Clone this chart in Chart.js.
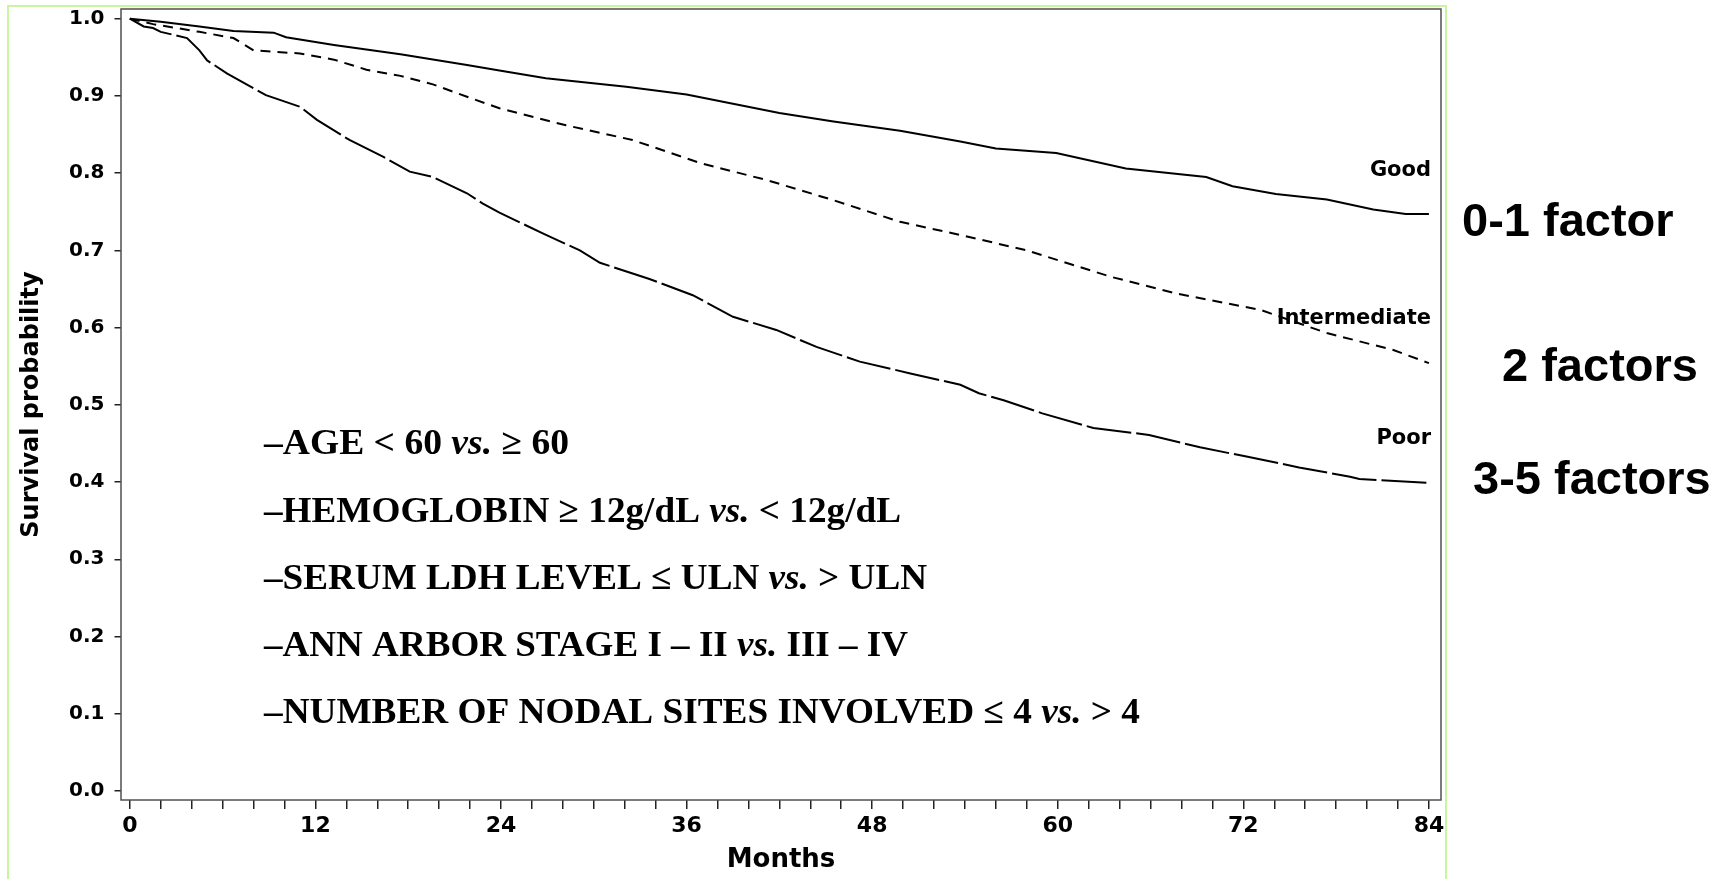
<!DOCTYPE html>
<html><head><meta charset="utf-8">
<script src="https://cdn.jsdelivr.net/npm/chart.js@4.4.1/dist/chart.umd.min.js"></script>
<style>html,body{margin:0;padding:0;background:#fff;overflow:hidden}canvas{display:block}</style>
</head><body>
<canvas id="c" width="1725" height="879"></canvas>
<script>
// ---- data ----
const goodMonths = [0, 2.0, 4.5, 6.7, 9.3, 10.1, 13.2, 17.5, 21.8, 23.9, 26.9, 32.1, 36.0, 39.0, 42.0, 45.5, 49.8, 53.7, 56.0, 59.9, 64.4, 69.6, 71.3, 74.1, 77.4, 80.4, 82.5, 84.0];
const goodSurv   = [1.000, 0.996, 0.990, 0.984, 0.982, 0.976, 0.966, 0.954, 0.940, 0.933, 0.923, 0.912, 0.902, 0.890, 0.878, 0.867, 0.855, 0.841, 0.832, 0.826, 0.806, 0.795, 0.783, 0.773, 0.766, 0.753, 0.747, 0.747];

const intermMonths = [0, 1.5, 4.5, 6.7, 8.0, 11.0, 13.2, 15.3, 17.5, 19.6, 21.8, 23.9, 28.2, 32.5, 36.9, 41.2, 45.5, 49.8, 53.7, 58.0, 63.4, 67.7, 73.1, 77.4, 81.7, 84.0];
const intermSurv   = [1.000, 0.993, 0.983, 0.975, 0.959, 0.955, 0.947, 0.934, 0.926, 0.915, 0.899, 0.884, 0.862, 0.843, 0.813, 0.791, 0.765, 0.737, 0.720, 0.700, 0.666, 0.644, 0.623, 0.593, 0.571, 0.554];

const poorMonths = [0, 0.9, 1.5, 2.0, 3.7, 4.5, 5.0, 6.3, 8.8, 11.0, 12.1, 14.2, 16.4, 18.1, 19.6, 21.8, 22.8, 23.9, 26.7, 29.1, 30.4, 33.6, 36.4, 39.0, 41.8, 44.4, 47.2, 50.4, 53.7, 54.9, 56.5, 59.0, 62.3, 65.9, 69.2, 72.2, 75.6, 78.9, 79.5, 84.0];
const poorSurv   = [1.000, 0.990, 0.988, 0.983, 0.975, 0.959, 0.946, 0.929, 0.901, 0.886, 0.869, 0.843, 0.821, 0.802, 0.795, 0.774, 0.761, 0.749, 0.722, 0.700, 0.684, 0.663, 0.642, 0.614, 0.597, 0.575, 0.556, 0.541, 0.526, 0.515, 0.506, 0.489, 0.470, 0.461, 0.445, 0.433, 0.419, 0.407, 0.404, 0.399];

const yTickValues = [0.0, 0.1, 0.2, 0.3, 0.4, 0.5, 0.6, 0.7, 0.8, 0.9, 1.0];
const xLabelMonths = [0, 12, 24, 36, 48, 60, 72, 84];
const xMinorStep = 2;
const groupLabels = ['Good', 'Intermediate', 'Poor'];
const factorLabels = ['0-1 factor', '2 factors', '3-5 factors'];
const riskFactors = [
  ['\u2013AGE < 60 ', 'vs.', ' \u2265 60'],
  ['\u2013HEMOGLOBIN \u2265 12g/dL ', 'vs.', ' < 12g/dL'],
  ['\u2013SERUM LDH LEVEL \u2264 ULN ', 'vs.', ' > ULN'],
  ['\u2013ANN ARBOR STAGE I \u2013 II ', 'vs.', ' III \u2013 IV'],
  ['\u2013NUMBER OF NODAL SITES INVOLVED \u2264 4 ', 'vs.', ' > 4']
];

const xTicks = [];
for (let m = 0; m <= 84; m += xMinorStep) xTicks.push(m);

function pts(xs, ys) { return xs.map((x, i) => ({x: x, y: ys[i]})); }

const SANS = '"DejaVu Sans"';

function drawRuns(ctx, runs, x, baseline, targetW) {
  const fonts = runs.map((r, i) => (i === 1 ? 'italic bold 36px "Liberation Serif"' : 'bold 36px "Liberation Serif"'));
  let total = 0;
  const widths = runs.map((r, i) => { ctx.font = fonts[i]; const w = ctx.measureText(r).width; total += w; return w; });
  const s = targetW / total;
  ctx.save();
  ctx.translate(x, baseline);
  ctx.scale(s, 1);
  ctx.textBaseline = 'alphabetic';
  ctx.textAlign = 'left';
  ctx.fillStyle = '#000';
  let cx = 0;
  runs.forEach((r, i) => { ctx.font = fonts[i]; ctx.fillText(r, cx, 0); cx += widths[i]; });
  ctx.restore();
}

const decor = {
  id: 'decor',
  beforeDraw(chart) {
    const ctx = chart.ctx;
    ctx.save();
    ctx.fillStyle = '#fff';
    ctx.fillRect(0, 0, chart.width, chart.height);
    ctx.strokeStyle = '#c9f5a3';
    ctx.lineWidth = 2;
    ctx.beginPath();
    ctx.moveTo(8, 879); ctx.lineTo(8, 6); ctx.lineTo(1446, 6); ctx.lineTo(1446, 879);
    ctx.stroke();
    ctx.restore();
  },
  beforeDatasetsDraw(chart) {
    const {ctx, chartArea: a} = chart;
    ctx.save();
    ctx.strokeStyle = '#505050';
    ctx.lineWidth = 1.5;
    ctx.strokeRect(a.left, a.top, a.right - a.left, a.bottom - a.top);
    ctx.restore();
  },
  afterDraw(chart) {
    const ctx = chart.ctx;
    ctx.save();
    ctx.fillStyle = '#000';
    ctx.font = 'bold 21px ' + SANS;
    ctx.textAlign = 'right';
    ctx.textBaseline = 'alphabetic';
    const gBase = [176, 324, 444];
    groupLabels.forEach((t, i) => ctx.fillText(t, 1431, gBase[i]));
    ctx.font = 'bold 47px "Liberation Sans"';
    ctx.textAlign = 'left';
    const fX = [1462, 1502, 1473], fBase = [236, 381, 494];
    factorLabels.forEach((t, i) => ctx.fillText(t, fX[i], fBase[i]));
    ctx.restore();
    const rBase = [454, 521.5, 588.5, 655.5, 722.5];
    const rW = [305, 637, 663, 644, 876];
    riskFactors.forEach((runs, i) => drawRuns(ctx, runs, 264, rBase[i], rW[i]));
  }
};

new Chart(document.getElementById('c'), {
  type: 'line',
  data: {
    datasets: [
      {label: groupLabels[0], data: pts(goodMonths, goodSurv), borderColor: '#000', borderWidth: 2, pointRadius: 0, tension: 0, fill: false},
      {label: groupLabels[1], data: pts(intermMonths, intermSurv), borderColor: '#000', borderWidth: 2, borderDash: [10, 7], pointRadius: 0, tension: 0, fill: false},
      {label: groupLabels[2], data: pts(poorMonths, poorSurv), borderColor: '#000', borderWidth: 2, borderDash: [45, 5], pointRadius: 0, tension: 0, fill: false}
    ]
  },
  options: {
    responsive: false,
    animation: false,
    devicePixelRatio: 1,
    layout: {padding: {left: 0, top: 9, right: 284, bottom: 0}},
    plugins: {legend: {display: false}, tooltip: {enabled: false}},
    scales: {
      x: {
        type: 'linear',
        min: -0.57,
        max: 84.78,
        afterBuildTicks: s => { s.ticks = xTicks.map(v => ({value: v})); },
        afterFit: s => { s.height = 79; s.paddingLeft = 0; s.paddingRight = 0; },
        ticks: {
          autoSkip: false, maxRotation: 0, minRotation: 0, padding: 4, color: '#000',
          font: {family: SANS, weight: 'bold', size: 22},
          callback: v => (xLabelMonths.indexOf(Math.round(v)) >= 0 ? String(Math.round(v)) : '')
        },
        grid: {display: true, drawOnChartArea: false, drawTicks: true, tickLength: 9, color: '#222', lineWidth: 1.5},
        border: {display: false},
        title: {display: true, text: 'Months', color: '#000', font: {family: SANS, weight: 'bold', size: 26}, padding: {top: 0, bottom: 3}}
      },
      y: {
        type: 'linear',
        min: -0.0117,
        max: 1.0126,
        afterBuildTicks: s => { s.ticks = yTickValues.map(v => ({value: v})); },
        afterFit: s => { s.width = 121; s.paddingTop = 0; s.paddingBottom = 0; },
        ticks: {
          padding: 10, color: '#000',
          font: {family: SANS, weight: 'bold', size: 20},
          callback: v => Number(v).toFixed(1)
        },
        grid: {display: true, drawOnChartArea: false, drawTicks: true, tickLength: 6.5, color: '#222', lineWidth: 1.5},
        border: {display: false},
        title: {display: true, text: 'Survival probability', color: '#000', font: {family: SANS, weight: 'bold', size: 24}, padding: {top: 17, bottom: 0}}
      }
    }
  },
  plugins: [decor]
});
</script>
</body></html>
